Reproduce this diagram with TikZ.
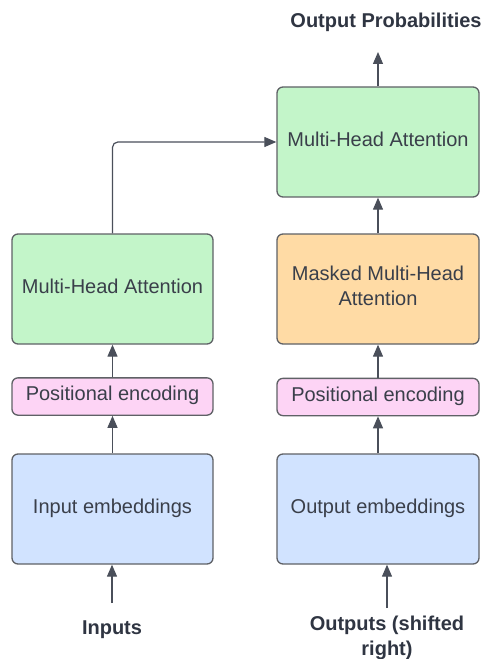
\documentclass[tikz,border=0pt]{standalone}
\usepackage{fontspec}
\setmainfont{Liberation Sans}
\usetikzlibrary{arrows.meta}
\definecolor{edgegray}{HTML}{5F6166}
\definecolor{txt}{HTML}{3A3F4A}
\definecolor{lbl}{HTML}{2F3542}
\definecolor{arr}{HTML}{4A4F5A}
\definecolor{attgreen}{HTML}{C3F5C9}
\definecolor{pospink}{HTML}{FDD4F5}
\definecolor{maskorange}{HTML}{FFDBA5}
\definecolor{embblue}{HTML}{D1E3FF}
\tikzset{
  blk/.style={draw=edgegray, line width=1pt, rounded corners=4.5pt,
    text=txt, font=\fontsize{15}{18.75}\selectfont, align=center,
    inner sep=0pt, text height=11pt, text depth=4.5pt},
  bigblk/.style={blk, minimum height=82.5pt},
  thinblk/.style={blk, minimum height=28pt},
  leftw/.style={minimum width=150.75pt},
  rightw/.style={minimum width=151.5pt},
  flow/.style={draw=arr, line width=0.9pt, -{Triangle[width=7.5pt,length=9pt]}},
  caption/.style={text=lbl, font=\fontsize{15}{18.75}\selectfont\bfseries, align=center, inner sep=0pt}
}
\begin{document}
\begin{tikzpicture}[x=0.75pt,y=-0.75pt]
\useasboundingbox (0,0) rectangle (483,659);
% encoder column
\node[bigblk,leftw,fill=attgreen] (encatt) at (112.5,289) {Multi-Head Attention};
\node[thinblk,leftw,fill=pospink] (encpos) at (112.5,396.5) {Positional encoding};
\node[bigblk,leftw,fill=embblue] (encemb) at (112.5,509) {Input embeddings};
% decoder column
\node[bigblk,rightw,fill=attgreen] (decatt) at (378,142) {Multi-Head Attention};
\node[bigblk,rightw,fill=maskorange,text height=] (decmask) at (378,289) {Masked Multi-Head\\Attention};
\node[thinblk,rightw,fill=pospink] (decpos) at (378,397) {Positional encoding};
\node[bigblk,rightw,fill=embblue] (decemb) at (378,509) {Output embeddings};
% captions
\node[caption] (inputs) at (112,630) {Inputs};
\node[caption] (outputs) at (387,638) {Outputs (shifted\\right)};
\node[caption] (probs) at (386,22) {Output Probabilities};
\coordinate (instart) at (112,603);
\coordinate (outstart) at (387,608);
\coordinate (probend) at (378,52);
% connectors
\draw[flow] (instart) -- (instart |- encemb.south);
\draw[flow] (encemb) -- (encpos);
\draw[flow] (encpos) -- (encatt);
\draw[flow] (outstart) -- (outstart |- decemb.south);
\draw[flow] (decemb) -- (decpos);
\draw[flow] (decpos) -- (decmask);
\draw[flow] (decmask) -- (decatt);
\draw[flow] (decatt) -- (probend);
\draw[flow, rounded corners=4pt] (encatt.north) |- (decatt.west);
\end{tikzpicture}
\end{document}
